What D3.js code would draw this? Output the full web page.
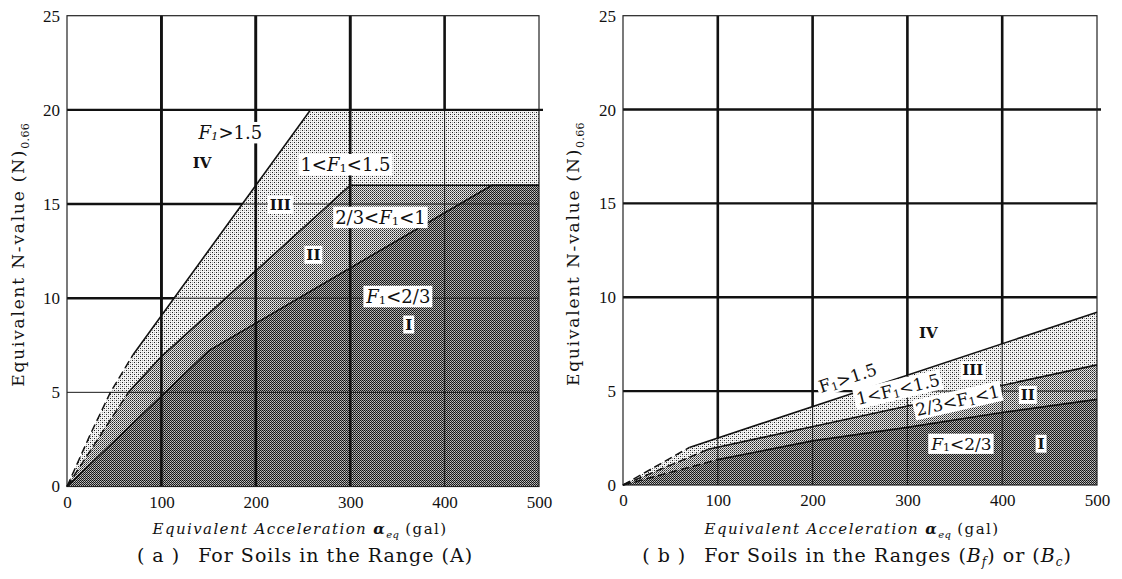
<!DOCTYPE html>
<html>
<head>
<meta charset="utf-8">
<script src="https://cdn.jsdelivr.net/npm/d3@7"></script>
<style>
body{margin:0;background:#fff}
svg{display:block}
text{font-family:"DejaVu Serif","Liberation Serif",serif;fill:#111}
</style>
</head>
<body>
<script>
var W = 1122, H = 579;

// axis ticks
var nTicks = [0, 5, 10, 15, 20, 25];
var accTicks = [0, 100, 200, 300, 400, 500];

// panel (a) boundaries, acceleration (gal) vs N-value
var topA_acc = [0, 25, 46, 70, 258, 500];
var topA_n   = [0, 2.8, 5, 7, 20, 20];
var midA_acc = [0, 65, 100, 300, 500];
var midA_n   = [0, 5, 6.9, 16, 16];
var botA_acc = [0, 150, 450, 500];
var botA_n   = [0, 7.2, 16, 16];

// panel (b) boundaries
var topB_acc = [0, 70, 500];
var topB_n   = [0, 2.0, 9.2];
var midB_acc = [0, 90, 208, 500];
var midB_n   = [0, 1.9, 3.2, 6.4];
var botB_acc = [0, 100, 200, 300, 400, 500];
var botB_n   = [0, 1.35, 2.35, 3.07, 3.86, 4.56];

var svg = d3.select("body").append("svg")
    .attr("width", W)
    .attr("height", H);

var defs = svg.append("defs");

// halftone screens
function makePattern(id, size, bg, dots){
  var p = defs.append("pattern")
      .attr("id", id)
      .attr("patternUnits", "userSpaceOnUse")
      .attr("x", 0).attr("y", 0)
      .attr("width", size).attr("height", size);
  p.append("rect").attr("width", size).attr("height", size).attr("fill", bg);
  dots.forEach(function(d){
    p.append("rect").attr("x", d[0]).attr("y", d[1])
      .attr("width", 1).attr("height", 1)
      .attr("fill", d[2]).attr("shape-rendering", "crispEdges");
  });
}
makePattern("light", 4, "#f4f4f4", [[0,0,"#222"],[2,2,"#222"],[2,0,"#aaa"],[0,2,"#aaa"]]);
makePattern("medium", 2, "#e6e6e6", [[0,0,"#222"],[1,1,"#666"]]);
makePattern("dark", 2, "#c4c4c4", [[0,0,"#111"],[1,1,"#222"],[1,0,"#999"]]);

// label text pieces: [text, style] style i=italic, s=subscript, b=bold
function addLabel(g, x, y, rot, parts, size, bgPad){
  var lg = g.append("g")
      .attr("transform", "translate(" + x + "," + y + ") rotate(" + rot + ")");
  var t = lg.append("text")
      .attr("text-anchor", "middle")
      .attr("dominant-baseline", "central")
      .attr("font-size", size);
  var shifted = false;
  parts.forEach(function(p){
    var ts = t.append("tspan").text(p[0]);
    var st = p[1] || "";
    if (st.indexOf("i") >= 0) ts.attr("font-style", "italic");
    if (st.indexOf("b") >= 0) ts.attr("font-weight", "bold");
    if (st.indexOf("s") >= 0){
      ts.attr("font-size", size * 0.65).attr("dy", size * 0.22);
      shifted = true;
    } else if (shifted){
      ts.attr("dy", -size * 0.22);
      shifted = false;
    }
  });
  if (bgPad != null){
    var bb = t.node().getBBox();
    lg.insert("rect", "text")
      .attr("x", bb.x - bgPad).attr("y", bb.y)
      .attr("width", bb.width + 2*bgPad).attr("height", bb.height)
      .attr("fill", "#fff");
  }
  return lg;
}

function drawPanel(cfg){
  var x = d3.scaleLinear().domain([0, 500]).range([cfg.x0, cfg.x1]);
  var y = d3.scaleLinear().domain([0, 25]).range([cfg.y0, cfg.y1]);
  var g = svg.append("g");
  var line = d3.line();

  function pts(accs, ns){ return accs.map(function(a, i){ return [x(a), y(ns[i])]; }); }

  // shaded zones, drawn from top zone down
  var fills = ["light", "medium", "dark"];
  cfg.bounds.forEach(function(b, i){
    var p = pts(b.acc, b.n).concat([[x(500), y(0)]]);
    g.append("path")
      .attr("d", line(p) + "Z")
      .attr("fill", "url(#" + fills[i] + ")");
  });

  // zone IV clip (white area)
  var tb = cfg.bounds[0];
  var ivPts = pts(tb.acc, tb.n).concat([[x(500), y(25)], [x(0), y(25)]]);
  var cid = "iv" + cfg.id;
  defs.append("clipPath").attr("id", cid)
    .append("path").attr("d", line(ivPts) + "Z");

  // thin grid everywhere
  var grid = g.append("g").attr("stroke", "#1a1a1a");
  accTicks.slice(1, -1).forEach(function(a){
    grid.append("line").attr("x1", x(a)).attr("x2", x(a))
      .attr("y1", y(0)).attr("y2", y(25)).attr("stroke-width", 1);
  });
  nTicks.slice(1, -1).forEach(function(n){
    grid.append("line").attr("x1", x(0)).attr("x2", x(500))
      .attr("y1", y(n)).attr("y2", y(n)).attr("stroke-width", 1);
  });

  // heavy grid in the white zone
  var heavy = g.append("g").attr("stroke", "#111").attr("clip-path", "url(#" + cid + ")");
  accTicks.slice(1, -1).forEach(function(a){
    heavy.append("line").attr("x1", x(a)).attr("x2", x(a))
      .attr("y1", y(0)).attr("y2", y(25)).attr("stroke-width", 2.6);
  });
  cfg.heavyN.forEach(function(n){
    heavy.append("line").attr("x1", x(0)).attr("x2", x(500))
      .attr("y1", y(n)).attr("y2", y(n)).attr("stroke-width", 2.4);
  });
  // heavy lines drawn full length
  cfg.fullAcc.forEach(function(a){
    g.append("line").attr("x1", x(a)).attr("x2", x(a))
      .attr("y1", y(0)).attr("y2", y(25))
      .attr("stroke", "#111").attr("stroke-width", 2.6);
  });
  cfg.fullN.forEach(function(n){
    g.append("line").attr("x1", x(0)).attr("x2", x(500) + 4)
      .attr("y1", y(n)).attr("y2", y(n))
      .attr("stroke", "#111").attr("stroke-width", 2.4);
  });

  // frame
  g.append("rect")
    .attr("x", x(0)).attr("y", y(25))
    .attr("width", x(500) - x(0)).attr("height", y(0) - y(25))
    .attr("fill", "none").attr("stroke", "#222").attr("stroke-width", 1.2);

  // boundary curves, dashed near origin
  cfg.bounds.forEach(function(b){
    var all = pts(b.acc, b.n);
    var k = b.acc.indexOf(b.dashTo);
    if (k > 0){
      g.append("path").attr("d", line(all.slice(0, k + 1)))
        .attr("fill", "none").attr("stroke", "#111")
        .attr("stroke-width", 1.5).attr("stroke-dasharray", "8,4");
    }
    g.append("path").attr("d", line(all.slice(Math.max(k, 0))))
      .attr("fill", "none").attr("stroke", "#111").attr("stroke-width", 1.6);
  });

  // axes
  var ay = g.append("g")
      .attr("transform", "translate(" + x(0) + ",0)")
      .call(d3.axisLeft(y).tickValues(nTicks).tickSize(0).tickPadding(7).tickFormat(d3.format("d")));
  var ax = g.append("g")
      .attr("transform", "translate(0," + y(0) + ")")
      .call(d3.axisBottom(x).tickValues(accTicks).tickSize(0).tickPadding(9).tickFormat(d3.format("d")));
  [ay, ax].forEach(function(a){
    a.select(".domain").remove();
    a.selectAll("text").style("font-family", "'Liberation Serif', serif")
      .attr("font-size", 17).attr("fill", "#111");
  });

  // zone labels
  cfg.labels.forEach(function(l){
    addLabel(g, x(l.acc), y(l.n), l.rot || 0, l.parts, l.size || 18, l.bg ? 2 : null);
  });

  // y title
  var yt = g.append("text")
      .attr("transform", "translate(" + cfg.yTitleX + "," + y(12.3) + ") rotate(-90)")
      .attr("text-anchor", "middle")
      .attr("font-size", 17)
      .attr("letter-spacing", 1.8);
  yt.append("tspan").text("Equivalent N-value (N)");
  yt.append("tspan").text("0.66").attr("font-size", 11).attr("dy", 5).attr("letter-spacing", 0.3);

  // x title
  var xt = g.append("text")
      .attr("x", cfg.xTitleX).attr("y", 534)
      .attr("text-anchor", "middle")
      .attr("font-size", 15)
      .attr("letter-spacing", 1.4);
  xt.append("tspan").text("Equivalent Acceleration ").attr("font-style", "italic");
  xt.append("tspan").text("α").attr("font-style", "italic").attr("font-weight", "bold");
  xt.append("tspan").text("eq").attr("font-style", "italic").attr("font-size", 10).attr("dy", 4).attr("letter-spacing", 0.3);
  xt.append("tspan").text(" (gal)").attr("dy", -4);

  // caption
  var ct = g.append("text")
      .attr("x", cfg.capX).attr("y", 562)
      .attr("text-anchor", "middle")
      .attr("font-size", 19)
      .attr("letter-spacing", 1);
  cfg.caption.forEach(function(p){
    var ts = ct.append("tspan").text(p[0]);
    if (p[1] === "g") ts.attr("dx", 18);
    if (p[1] === "i") ts.attr("font-style", "italic");
    if (p[1] === "s") ts.attr("font-style", "italic").attr("font-size", 12).attr("dy", 4);
    if (p[1] === "r") ts.attr("dy", -4);
  });
}

drawPanel({
  id: "a", x0: 67, x1: 539, y0: 486.5, y1: 15.7,
  bounds: [
    {acc: topA_acc, n: topA_n, dashTo: 70},
    {acc: midA_acc, n: midA_n, dashTo: 65},
    {acc: botA_acc, n: botA_n, dashTo: 0}
  ],
  heavyN: [10, 15],
  fullAcc: [100, 200, 300],
  fullN: [20],
  yTitleX: 24, xTitleX: 300, capX: 305,
  caption: [["( a )", ""], ["For Soils in the Range (A)", "g"]],
  labels: [
    {acc: 173, n: 18.8, parts: [["F","i"],["1","is"],[">1.5",""]], bg: true},
    {acc: 143, n: 17.2, parts: [["IV","b"]], size: 15},
    {acc: 295, n: 17.1, parts: [["1<",""],["F","i"],["1","s"],["<1.5",""]], bg: true},
    {acc: 226, n: 14.95, parts: [["III","b"]], size: 15, bg: true},
    {acc: 332, n: 14.3, parts: [["2/3<",""],["F","i"],["1","s"],["<1",""]], bg: true},
    {acc: 261, n: 12.3, parts: [["II","b"]], size: 15, bg: true},
    {acc: 351, n: 10.1, parts: [["F","i"],["1","s"],["<2/3",""]], bg: true},
    {acc: 362, n: 8.6, parts: [["I","b"]], size: 15, bg: true}
  ]
});

drawPanel({
  id: "b", x0: 623, x1: 1097, y0: 485, y1: 15.7,
  bounds: [
    {acc: topB_acc, n: topB_n, dashTo: 70},
    {acc: midB_acc, n: midB_n, dashTo: 90},
    {acc: botB_acc, n: botB_n, dashTo: 100}
  ],
  heavyN: [5, 10, 15],
  fullAcc: [],
  fullN: [20],
  yTitleX: 579, xTitleX: 852, capX: 857,
  caption: [["( b )", ""], ["For Soils in the Ranges (", "g"], ["B","i"], ["f","s"], [") or (","r"], ["B","i"], ["c","s"], [")","r"]],
  labels: [
    {acc: 237, n: 5.7, rot: -18, parts: [["F",""],["1","s"],[">1.5",""]], bg: true, size: 17},
    {acc: 322, n: 8.1, parts: [["IV","b"]], size: 15},
    {acc: 290, n: 5.1, rot: -13.5, parts: [["1<",""],["F",""],["1","s"],["<1.5",""]], bg: true, size: 17},
    {acc: 369, n: 6.1, parts: [["III","b"]], size: 15, bg: true},
    {acc: 353, n: 4.5, rot: -13, parts: [["2/3<",""],["F",""],["1","s"],["<1",""]], bg: true, size: 17},
    {acc: 427, n: 4.8, parts: [["II","b"]], size: 15, bg: true},
    {acc: 357, n: 2.2, parts: [["F","i"],["1","s"],["<2/3",""]], bg: true, size: 17},
    {acc: 441, n: 2.2, parts: [["I","b"]], size: 15, bg: true}
  ]
});
</script>
</body>
</html>
